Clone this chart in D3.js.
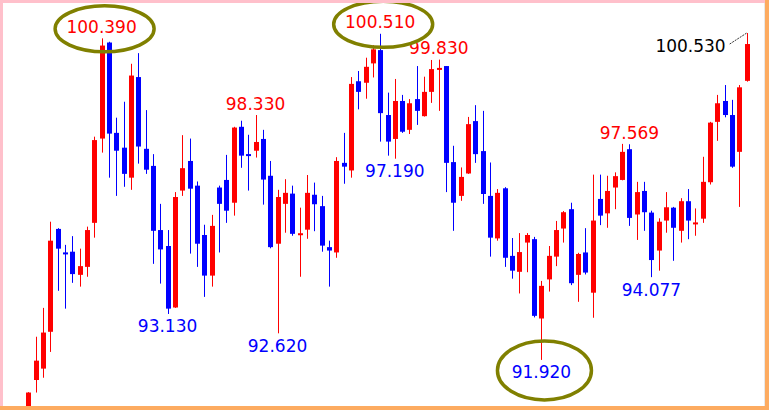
<!DOCTYPE html>
<html>
<head>
<meta charset="utf-8">
<script src="https://cdn.jsdelivr.net/npm/d3@7"></script>
<style>
  html, body { margin: 0; padding: 0; background: #fff; }
  svg { display: block; }
</style>
</head>
<body>
<svg id="chart" width="769" height="410"></svg>
<script>
// ---- data ----
const candleIndex = d3.range(99);

const openPrices = [
  90.55, 91.39, 91.69, 92.66, 95.37, 94.73, 94.77, 94.16, 94.37, 95.53,
  97.75, 100.28, 97.90, 97.51, 96.72, 99.37, 97.48, 97.03, 95.34, 94.92,
  93.30, 96.38, 97.16, 96.51, 95.21, 94.14, 96.46, 96.66, 96.06, 98.06,
  97.32, 97.43, 97.74, 96.77, 94.98, 96.03, 96.30, 95.22, 95.35, 96.27,
  95.97, 94.89, 94.75, 97.11, 96.91, 99.26, 99.22, 99.73, 100.08, 98.37,
  97.74, 98.74, 97.98, 98.79, 98.34, 98.98, 99.57, 99.66, 97.13, 96.24,
  96.83, 98.21, 97.42, 96.24, 95.12, 96.44, 94.66, 94.24, 95.01, 95.10,
  93.01, 94.04, 94.64, 95.38, 95.89, 94.16, 94.75, 93.69, 96.16, 95.78,
  96.46, 96.66, 97.47, 95.75, 96.37, 95.80, 94.80, 95.59, 95.93, 95.32,
  96.10, 95.50, 95.64, 96.60, 98.19, 98.74, 98.37, 97.40, 99.27
];
const highPrices = [
  91.07, 92.53, 93.29, 95.56, 95.39, 94.95, 95.18, 94.85, 95.43, 97.80,
  100.39, 100.30, 98.30, 98.72, 99.72, 100.00, 98.50, 97.34, 96.03, 95.34,
  96.34, 97.84, 97.75, 96.62, 95.48, 95.74, 96.51, 97.32, 98.06, 98.22,
  97.85, 98.37, 97.98, 97.16, 96.40, 96.68, 96.51, 95.93, 96.79, 96.59,
  96.24, 95.06, 97.26, 97.90, 99.37, 99.53, 99.88, 100.21, 100.51, 98.96,
  99.32, 98.90, 98.79, 99.66, 99.38, 99.82, 99.83, 99.66, 97.56, 96.99,
  98.32, 98.63, 98.48, 97.12, 96.42, 96.47, 95.13, 95.26, 95.26, 95.16,
  94.00, 94.92, 95.58, 95.84, 96.06, 94.74, 95.39, 96.80, 96.80, 96.77,
  96.86, 97.61, 97.60, 96.61, 96.61, 95.85, 95.65, 96.34, 95.95, 96.18,
  96.42, 95.91, 97.27, 98.19, 98.90, 99.16, 98.77, 99.16, 100.53
];
const lowPrices = [
  90.45, 91.06, 91.45, 92.13, 93.74, 93.27, 93.95, 93.85, 94.11, 95.14,
  97.38, 96.72, 96.24, 96.48, 96.40, 97.09, 96.82, 94.45, 93.93, 93.13,
  93.29, 96.24, 94.72, 94.37, 93.58, 93.85, 94.75, 95.53, 95.72, 96.98,
  96.38, 97.25, 96.01, 94.86, 92.62, 95.27, 95.19, 94.11, 95.11, 95.31,
  94.77, 93.85, 94.61, 96.56, 96.72, 98.52, 98.80, 99.36, 97.67, 97.30,
  97.22, 97.90, 97.87, 98.11, 98.33, 98.69, 98.48, 96.34, 95.32, 96.11,
  96.82, 97.11, 96.03, 94.64, 95.06, 94.37, 94.06, 93.67, 94.23, 93.04,
  91.92, 93.72, 94.39, 95.01, 93.89, 93.45, 94.17, 93.03, 95.47, 95.40,
  95.89, 96.65, 95.45, 95.08, 95.32, 94.10, 94.27, 95.27, 94.53, 95.01,
  95.10, 95.19, 95.53, 96.54, 97.69, 98.31, 96.98, 95.95, 99.25
];
const closePrices = [
  91.06, 91.90, 92.64, 95.06, 94.85, 94.72, 94.18, 94.39, 95.34, 97.71,
  100.20, 97.88, 97.43, 96.82, 99.41, 97.54, 96.93, 95.32, 94.83, 93.27,
  96.21, 96.97, 96.43, 94.98, 94.14, 95.45, 96.03, 95.85, 98.04, 97.30,
  97.31, 97.66, 96.67, 94.89, 96.21, 96.32, 95.24, 95.24, 96.32, 96.02,
  94.93, 94.80, 97.16, 97.01, 99.19, 98.98, 99.64, 100.10, 98.42, 97.67,
  98.74, 97.93, 98.68, 98.48, 98.98, 99.58, 99.60, 97.11, 96.06, 96.74,
  98.13, 97.34, 96.29, 95.14, 96.32, 94.61, 94.27, 94.76, 95.21, 93.08,
  93.87, 94.66, 95.34, 95.81, 93.94, 94.71, 94.22, 95.59, 95.72, 96.37,
  96.76, 97.40, 95.66, 96.34, 95.81, 94.55, 95.56, 95.94, 95.40, 96.10,
  95.59, 95.53, 96.61, 98.17, 98.68, 98.37, 97.01, 99.10, 100.24
];

// price labels: candle index, text, side
const labelIndex = [10, 48, 56, 31, 82, 50, 19, 34, 70, 85];
const labelText  = ["100.390", "100.510", "99.830", "98.330", "97.569",
                    "97.190", "93.130", "92.620", "91.920", "94.077"];
const labelSide  = ["high", "high", "high", "high", "high",
                    "low", "low", "low", "low", "low"];
const circledLabels = ["100.390", "100.510", "91.920"];

const lastLabelIndex = 98;
const lastLabelText = "100.530";

// ---- drawing ----
const W = 769, H = 410;
const svg = d3.select("#chart");

const x = d3.scalePoint().domain(candleIndex).range([28.3, 746.7]);
const y = d3.scaleLinear().domain([90.6, 101.4]).range([H, 0]);

const UP = "#ff0000", DOWN = "#0000ff";

svg.append("rect").attr("width", W).attr("height", H).attr("fill", "#ffffff");

svg.append("defs").append("clipPath").attr("id", "plotclip")
  .append("rect").attr("x", 3).attr("y", 3).attr("width", W - 7).attr("height", H - 7);

const candles = candleIndex.map(i => ({
  i, o: openPrices[i], h: highPrices[i], l: lowPrices[i], c: closePrices[i]
}));

const g = svg.append("g").attr("clip-path", "url(#plotclip)");

const cg = g.selectAll("g.candle").data(candles).join("g").attr("class", "candle");

cg.append("rect")
  .attr("x", d => Math.round(x(d.i)))
  .attr("width", 1)
  .attr("y", d => y(d.h))
  .attr("height", d => Math.max(1, y(d.l) - y(d.h)))
  .attr("fill", d => d.c >= d.o ? UP : DOWN);

cg.append("rect")
  .attr("x", d => Math.round(x(d.i)) - 2)
  .attr("width", 5)
  .attr("y", d => {
    const top = y(Math.max(d.o, d.c));
    const hgt = Math.abs(y(d.o) - y(d.c));
    return hgt < 2 ? (top + y(Math.min(d.o, d.c))) / 2 - 1 : top;
  })
  .attr("height", d => Math.max(2, Math.abs(y(d.o) - y(d.c))))
  .attr("fill", d => d.c >= d.o ? UP : DOWN);

// labels
const FONT = "'DejaVu Sans', Verdana, sans-serif";
const labels = labelIndex.map((idx, k) => {
  const side = labelSide[k];
  const val = side === "high" ? highPrices[idx] : lowPrices[idx];
  const cx = x(idx);
  const by = side === "high" ? y(val) - 5.5 : y(val) + 18.5;
  return { idx, text: labelText[k], side, cx, by };
});

const lg = svg.append("g");
lg.selectAll("text.lbl").data(labels).join("text")
  .attr("class", "lbl")
  .attr("x", d => d.cx)
  .attr("y", d => d.by)
  .attr("text-anchor", "middle")
  .attr("font-family", FONT)
  .attr("font-size", 17)
  .attr("fill", d => d.side === "high" ? UP : DOWN)
  .text(d => d.text);

// olive ellipses round the extreme labels
lg.selectAll("ellipse").data(labels.filter(d => circledLabels.includes(d.text))).join("ellipse")
  .attr("cx", d => d.cx + 3)
  .attr("cy", d => d.by - (d.side === "high" ? 4 : 8))
  .attr("rx", d => d.side === "high" ? 49.5 : 47)
  .attr("ry", d => d.side === "high" ? 23 : 29.5)
  .attr("fill", "none")
  .attr("stroke", "#808000")
  .attr("stroke-width", 3.5);

// last price label with leader line
const lx = x(lastLabelIndex), ly = y(highPrices[lastLabelIndex]);
svg.append("text")
  .attr("x", lx - 21)
  .attr("y", ly + 18.5)
  .attr("text-anchor", "end")
  .attr("font-family", FONT)
  .attr("font-size", 17)
  .attr("fill", "#000000")
  .text(lastLabelText);
svg.append("line")
  .attr("x1", lx - 17).attr("y1", ly + 11)
  .attr("x2", lx).attr("y2", ly)
  .attr("stroke", "#000").attr("stroke-width", 0.8)
  .attr("stroke-dasharray", "2,1");

// frame
svg.append("rect").attr("x", 0).attr("y", 0).attr("width", W).attr("height", 3).attr("fill", "#ffc0cb");
svg.append("rect").attr("x", 0).attr("y", 0).attr("width", 3).attr("height", H).attr("fill", "#ffc0cb");
svg.append("rect").attr("x", W - 5).attr("y", 3).attr("width", 1).attr("height", H - 7).attr("fill", "#e8e8e8");
svg.append("rect").attr("x", W - 4).attr("y", 0).attr("width", 4).attr("height", H).attr("fill", "#fdab60");
svg.append("rect").attr("x", 0).attr("y", H - 4).attr("width", W).attr("height", 4).attr("fill", "#fdab60");
</script>
</body>
</html>
